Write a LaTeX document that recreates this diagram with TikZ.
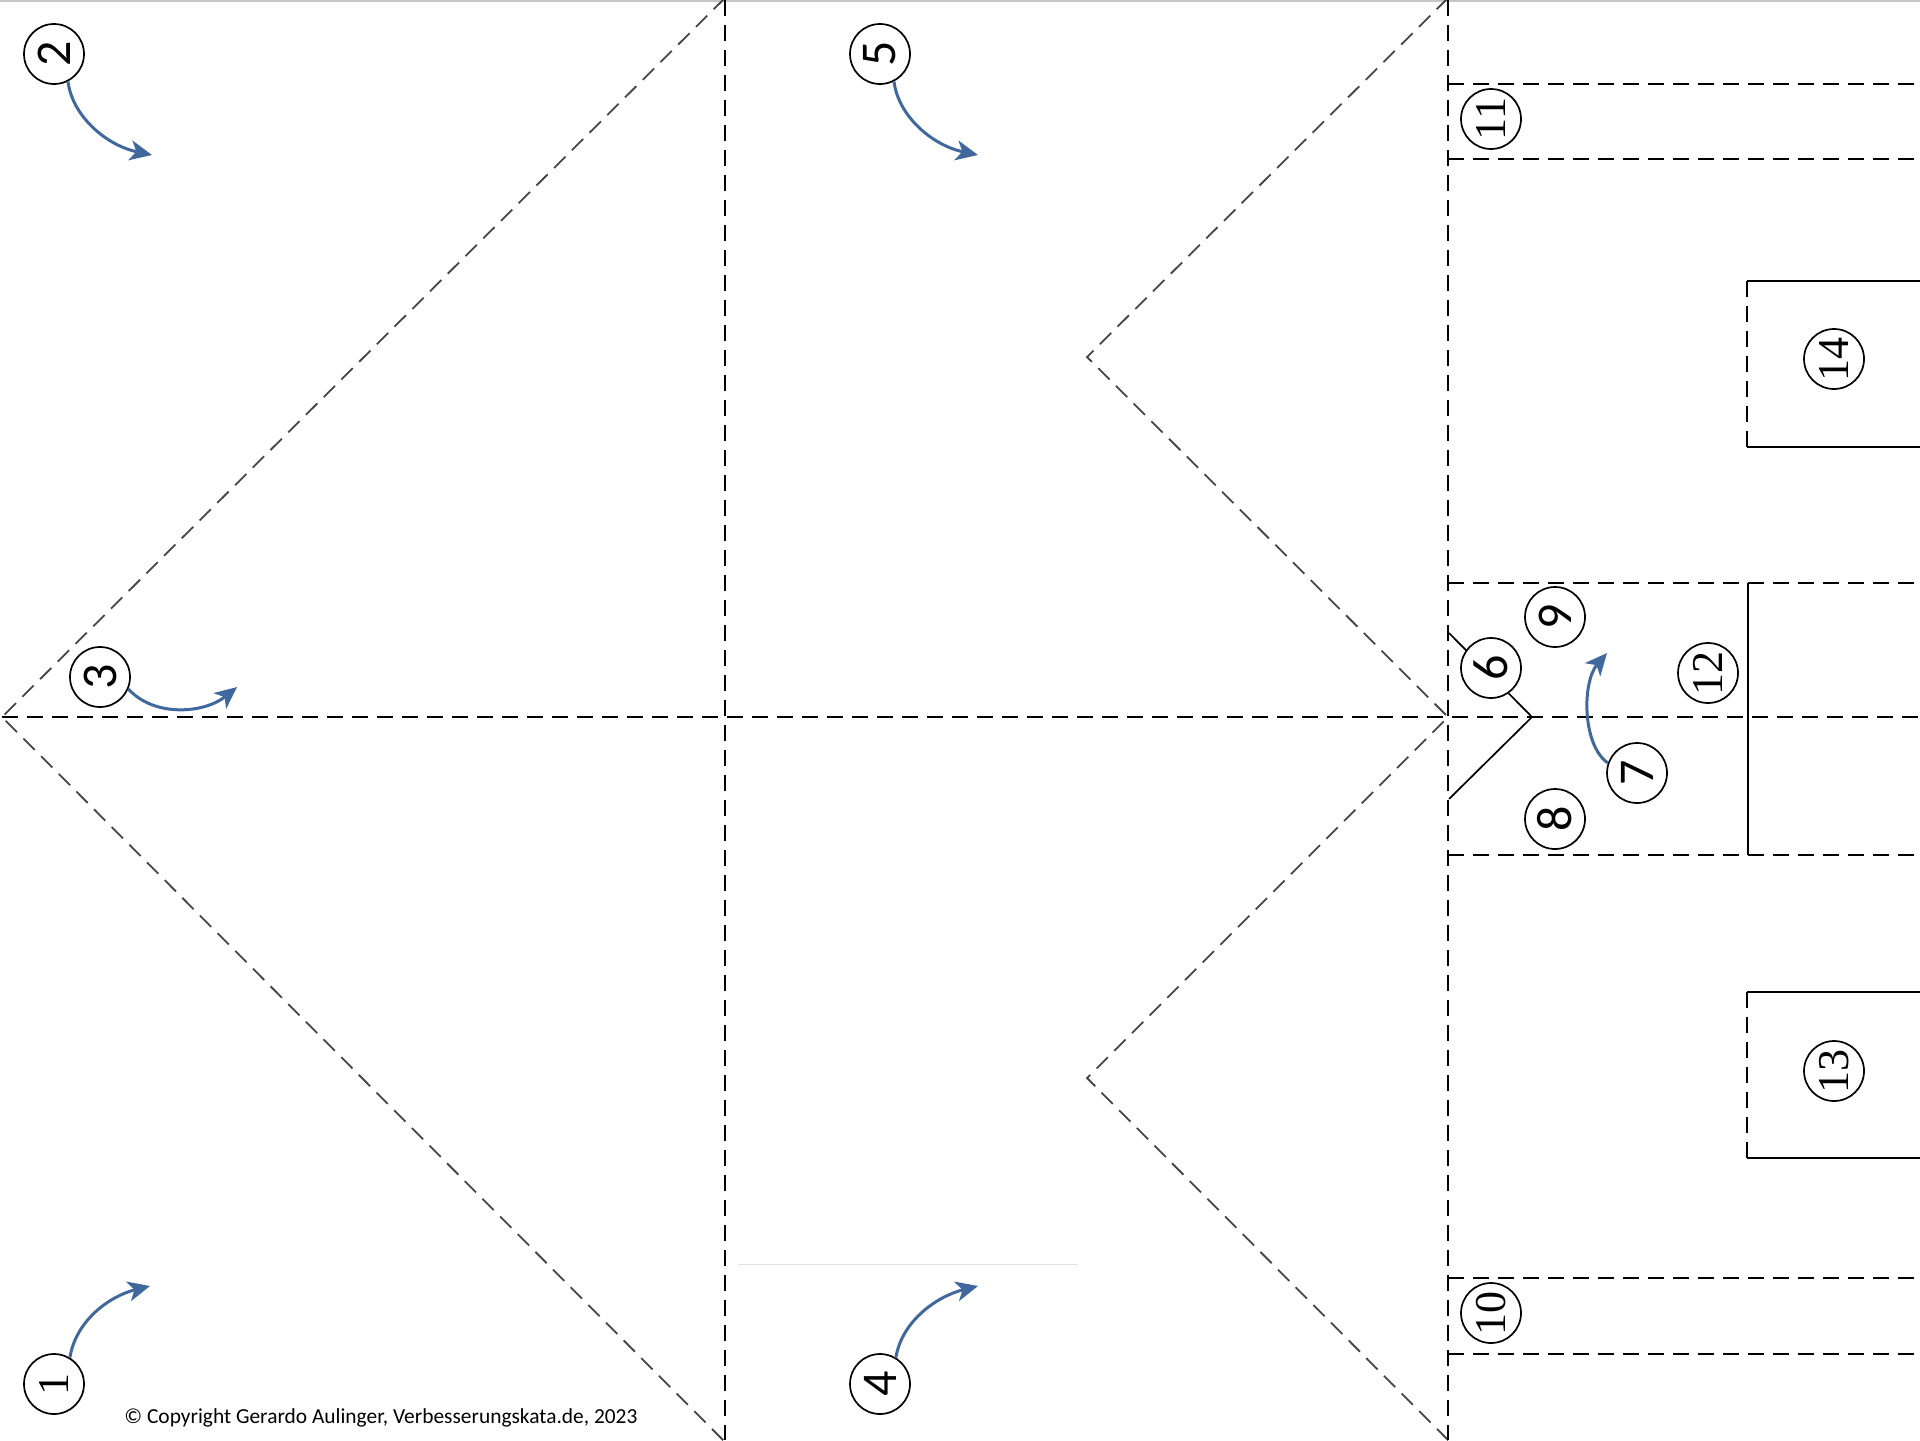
\documentclass[tikz,border=0pt]{standalone}
\usepackage{fontspec}
\usepackage{graphicx}
\setmainfont{Carlito}
\newfontfamily\serifd{Liberation Serif}
\newfontfamily\sansd{Carlito}
\usetikzlibrary{arrows.meta}
\definecolor{arrowblue}{RGB}{64,104,156}
\definecolor{foldgray}{RGB}{70,70,70}
\begin{document}
\begin{tikzpicture}[x=0.5pt,y=-0.5pt,
  fold/.style={line width=1.15pt, dash pattern=on 8pt off 4.5pt, black},
  diag/.style={line width=0.9pt, dash pattern=on 8pt off 4.5pt, foldgray},
  cutline/.style={line width=1.1pt, black},
  thinline/.style={line width=0.85pt, black},
  circ/.style={draw, circle, fill=white, line width=0.85pt, minimum size=30pt, inner sep=0pt},
  sd/.style={circ, font=\sansd\fontsize{25}{25}\selectfont},
  sf/.style={circ, font=\serifd\fontsize{22}{22}\selectfont},
  turn/.style={draw=arrowblue, line width=1.5pt, -{Stealth[length=11pt,width=10pt,inset=3pt]}}
]
\clip (0,0) rectangle (1920,1440);
\fill[white] (0,0) rectangle (1920,1440);
\draw[line width=1pt, gray!45] (0,1) -- (1920,1);

% diagonal fold lines
\draw[diag] (725,-2) -- (2,717) -- (725,1442);
\draw[diag] (1448,-2) -- (1087,357) -- (1448,717) -- (1087,1078) -- (1450,1442);

% straight fold lines
\draw[fold] (2,717) -- (1920,717);
\draw[fold] (725,0) -- (725,1440);
\draw[fold] (1448,0) -- (1448,1440);
\draw[fold] (1448,84) -- (1920,84);
\draw[fold] (1448,159) -- (1920,159);
\draw[fold] (1448,583) -- (1920,583);
\draw[fold] (1448,855) -- (1920,855);
\draw[fold] (1448,1278) -- (1920,1278);
\draw[fold] (1448,1354) -- (1920,1354);
\draw[fold] (1747,281) -- (1747,447);
\draw[fold] (1747,992) -- (1747,1158);

% cut lines
\draw[cutline] (1747,281) -- (1920,281);
\draw[cutline] (1747,447) -- (1920,447);
\draw[cutline] (1747,992) -- (1920,992);
\draw[cutline] (1747,1158) -- (1920,1158);
\draw[cutline] (1748,583) -- (1748,855);
\draw[thinline] (1449,633) -- (1532,717) -- (1449,799);
\draw[line width=0.5pt, gray!22] (738,1264) -- (1078,1264);

% numbered circles
\node[sf] (c1) at (54,1384) {\rotatebox{90}{1}};
\node[sd] (c2) at (54,54) {\rotatebox{90}{2}};
\node[sd] (c3) at (100,677) {\rotatebox{90}{3}};
\node[sd] (c4) at (880,1384) {\rotatebox{90}{4}};
\node[sd] (c5) at (880,54) {\rotatebox{90}{5}};
\node[sd] (c6) at (1491,668) {\rotatebox{90}{6}};
\node[sd] (c7) at (1637,773) {\rotatebox{90}{7}};
\node[sd] (c8) at (1555,819) {\rotatebox{90}{8}};
\node[sd] (c9) at (1555,617) {\rotatebox{90}{9}};
\node[sf] (c10) at (1491,1313) {\rotatebox{90}{10}};
\node[sf] (c11) at (1491,119) {\rotatebox{90}{11}};
\node[sf] (c12) at (1708,673) {\rotatebox{90}{12}};
\node[sf] (c13) at (1834,1071) {\rotatebox{90}{13}};
\node[sf] (c14) at (1834,359) {\rotatebox{90}{14}};

% arrow tips
\coordinate (t1) at (150,1286);
\coordinate (t2) at (152,155);
\coordinate (t3) at (237,687);
\coordinate (t4) at (978,1286);
\coordinate (t5) at (978,155);
\coordinate (t7) at (1607,653);

\draw[turn] (c2.-63) .. controls (72,115) and (105,145) .. (t2);
\draw[turn] (c5.-63) .. controls (898,115) and (931,145) .. (t5);
\draw[turn] (c1.59) .. controls (76,1320) and (110,1296) .. (t1);
\draw[turn] (c4.59) .. controls (902,1320) and (938,1296) .. (t4);
\draw[turn] (c3.-23) .. controls (155,718) and (205,713) .. (t3);
\draw[turn] (c7.161) .. controls (1582,745) and (1582,682) .. (t7);

\node[anchor=west, inner sep=0pt, font=\fontsize{10.7}{12}\selectfont] (copy) at (124,1418) {© Copyright Gerardo Aulinger, Verbesserungskata.de, 2023};
\end{tikzpicture}
\end{document}
